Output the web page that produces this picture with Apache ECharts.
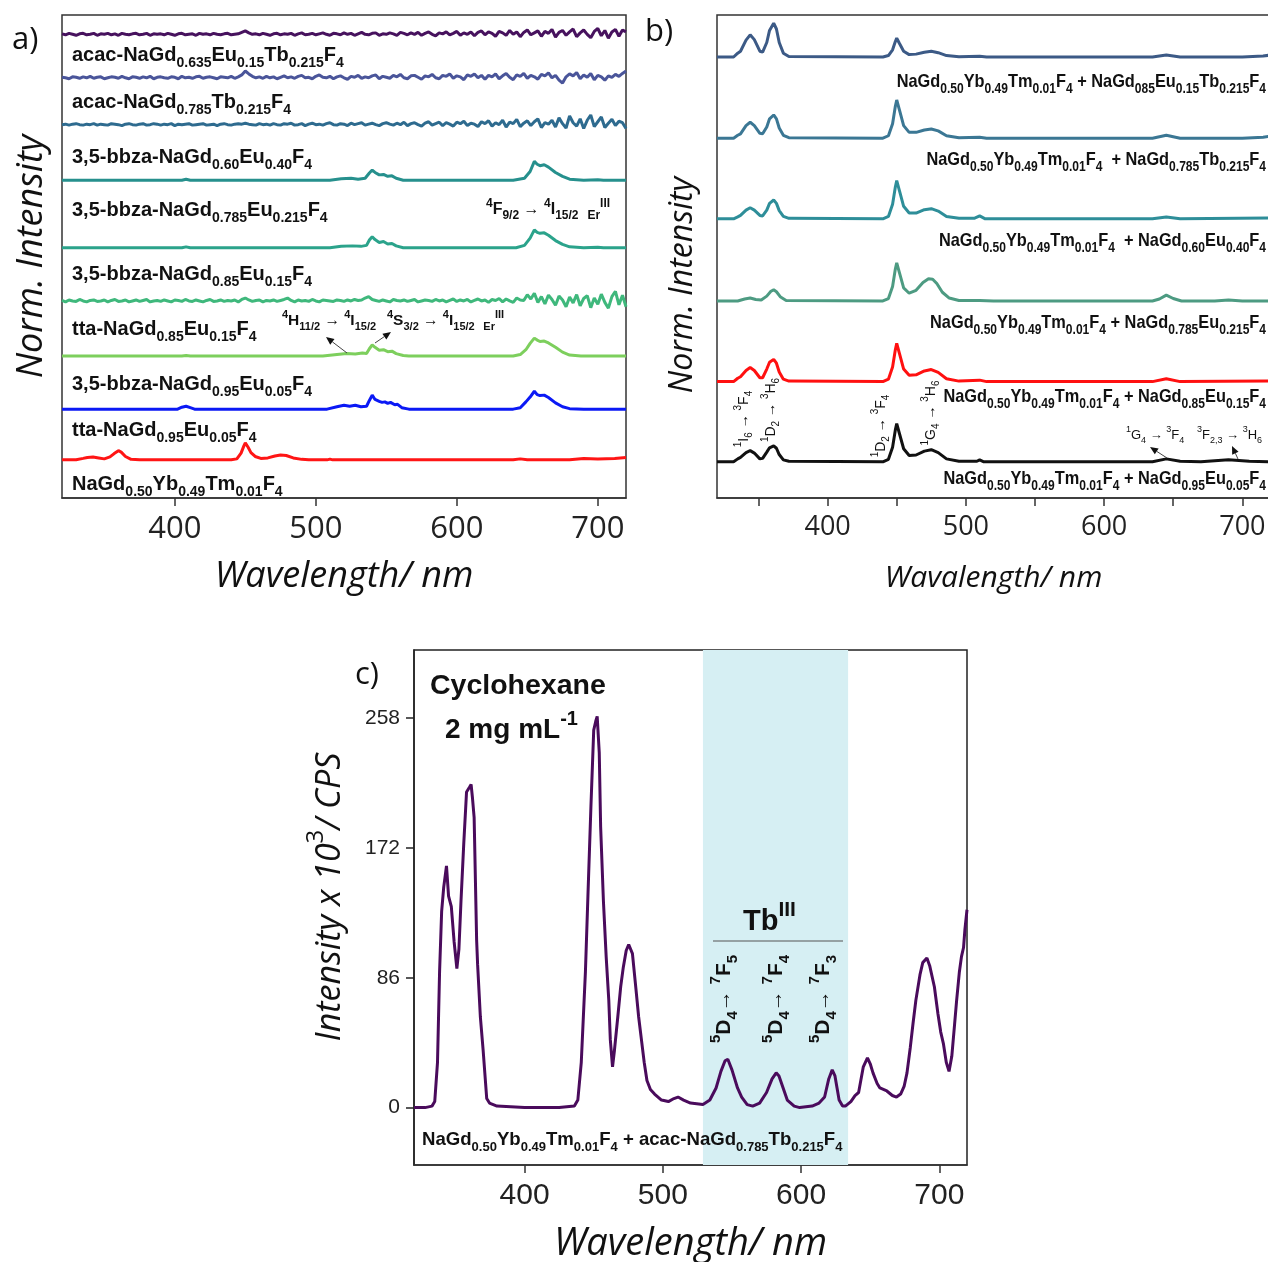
<!DOCTYPE html>
<html>
<head>
<meta charset="utf-8">
<script src="https://cdn.jsdelivr.net/npm/echarts@6/dist/echarts.min.js"></script>
<style>
  html, body { margin: 0; padding: 0; background: #fff; }
  #main { width: 1268px; height: 1262px; }
</style>
</head>
<body>
<div id="main"></div>
<script>
// ---- panel a : stacked normalised spectra (y unit = arbitrary offset scale 0-100)
var offsetsA = [96, 87, 77.3, 65.8, 51.8, 40.8, 29.4, 18.4, 7.9];
var colorsA = ['#47125e', '#4a559a', '#2e6b8f', '#26908d', '#2ba38b', '#3fb87c', '#7dcf5d', '#0b19f5', '#ff1515'];

// noisy traces, one value every 2.5 nm from 320 to 720 (rows of 50 nm)
var purpleNoise = [
  0.1,-0.1,0.2,0,-0.2,0.1,0.2,-0.1,0,0.2,-0.2,0.1,0,0.2,-0.1,0.1,-0.2,0.2,0,-0.1,
  0.1,0.2,-0.1,0,0.2,-0.2,0.1,0,0.1,-0.1,0.2,0,-0.2,0.1,0.2,-0.1,0,0.1,-0.2,0.2,
  0,0.1,-0.1,0.2,0,-0.1,0.1,0.2,-0.1,0,0.1,0.4,0.7,0.3,0,0.1,-0.1,0.2,0,-0.2,
  0.1,0.2,-0.1,0.1,0,0.2,-0.2,0.1,0.3,-0.1,0,0.2,-0.1,0.1,0.3,0,-0.2,0.2,0.1,-0.1,
  0.3,0,0.2,-0.2,0.1,0.4,0,-0.1,0.2,0.3,-0.2,0.1,0,0.3,0.1,-0.2,0.4,0.2,-0.1,0.3,
  0,0.4,-0.2,0.2,0.5,0,-0.3,0.3,0.1,0.5,-0.1,0.2,0.6,-0.2,0.3,0,0.5,-0.3,0.4,0.7,
  -0.1,0.5,0.2,-0.4,0.6,0.3,-0.2,0.8,0,0.5,-0.5,0.4,0.9,-0.1,0.3,0.7,-0.4,0.6,0.2,1.0,
  -0.6,0.4,0.8,-0.2,0.5,1.1,-0.5,0.3,0.9,0,-0.7,0.6,1.2,-0.3,0.8,-0.8,0.5,1.0,-0.4,0.9,
  0.5];
var slateNoise = [
  0.1,0,-0.2,0.2,0.1,-0.1,0.2,0,0.3,-0.1,0.1,0.2,-0.2,0,0.2,0.1,-0.1,0.3,0,-0.2,
  0.2,0.1,-0.1,0.2,0,0.3,-0.2,0.1,0.2,0,-0.1,0.2,0.1,-0.2,0.3,0,0.1,-0.1,0.2,0.3,
  -0.1,0.1,0.2,0,-0.2,0.2,0.1,0,0.3,-0.1,0.2,0.6,1.4,0.8,0.3,0,0.2,-0.1,0.3,0,
  0.2,-0.2,0.1,0.4,0,0.2,-0.1,0.3,0.5,0,0.1,-0.2,0.3,0.6,0.1,0,0.3,-0.2,0.2,0.4,
  0,-0.3,0.3,0.1,0.5,-0.1,0.2,0,0.4,0.6,-0.2,0.3,0.1,-0.1,0.5,0.2,0.7,0,-0.2,0.4,
  0.5,0.1,-0.3,0.4,0.2,0.7,0,-0.2,0.5,0.3,0.8,-0.1,0.4,0.2,-0.4,0.6,0.3,0.8,0,0.5,
  -0.3,0.5,0.2,0.8,-0.2,0.4,0.9,0.1,-0.4,0.6,0.3,0.9,-0.1,0.5,0.2,-0.3,0.7,0.4,1.0,0,
  0.5,-0.5,-1.1,0.2,0.8,0.4,1.1,-0.2,0.6,0.1,0.9,-0.4,0.5,0.2,-0.5,0.4,0.1,0.7,0.3,0.9,
  1.4];
var steelNoise = [
  0,0.1,-0.1,0.1,0.2,0,-0.1,0.1,0,0.2,-0.1,0.1,0,-0.1,0.2,0.1,0,-0.2,0.1,0.2,
  0,-0.1,0.1,0.2,-0.1,0,0.2,0.1,-0.1,0.1,0,0.2,-0.2,0.1,0,0.1,0.2,-0.1,0,0.1,
  0.2,-0.1,0,0.1,-0.2,0.1,0.2,0,-0.1,0.1,0.2,0.1,0.3,0.1,0,-0.1,0.2,0,0.1,-0.1,
  0.2,0,-0.1,0.2,0.1,0.3,-0.1,0,0.2,-0.2,0.1,0.3,0,0.1,-0.1,0.2,0.4,0,-0.1,0.2,
  0.1,-0.2,0.3,0,0.2,0.4,-0.1,0.1,0.3,0,-0.2,0.2,0.4,0.1,-0.1,0.3,0,0.5,-0.2,0.2,
  0.4,0,-0.3,0.3,0.6,-0.1,0.2,0.5,-0.2,0.4,0.1,-0.3,0.5,0.2,0.7,-0.2,0.3,0.1,-0.4,0.6,
  0.2,0.8,-0.3,0.4,0,0.9,-0.5,0.5,0.2,1.1,-0.4,0.3,0.8,-0.2,0.6,1.2,-0.6,0.4,0.1,0.9,
  -0.5,1.4,0.2,-0.7,1.8,0.4,-0.3,1.2,-0.8,0.9,2.0,-0.4,0.6,1.6,-0.6,0.3,1.1,-0.2,0.7,0.4,
  -0.8];
var greenNoise = [
  0.1,-0.2,0.2,0,-0.1,0.3,0,-0.2,0.1,0.2,-0.1,0,0.2,-0.2,0.1,0.3,-0.1,0,0.2,-0.2,
  0,0.2,-0.1,0.1,0.3,-0.2,0,0.1,-0.1,0.2,0,-0.2,0.2,0.1,-0.1,0.3,0,-0.1,0.2,0,
  -0.2,0.1,0.3,-0.1,0,0.2,-0.1,0.1,0,0.2,-0.2,0.3,0.6,0.2,-0.1,0.1,0.2,-0.2,0.1,0,
  0.2,-0.1,0.1,0.3,0.6,0.1,-0.2,0.2,0,0.1,-0.1,0.3,0,-0.2,0.2,0.1,0,-0.1,0.2,0.1,
  -0.1,0.2,0,0.3,0.1,0.2,0.6,0.9,0.3,0.1,-0.1,0.2,0,-0.2,0.3,0.1,0,0.2,-0.1,0.1,
  0.3,-0.2,0,0.2,0.1,-0.1,0.3,0,0.2,-0.2,0.1,0.4,-0.1,0.2,0,0.3,-0.2,0.1,0.4,0,
  0.2,-0.3,0.3,0.1,0.5,-0.2,0.4,0,-0.3,0.6,0.2,0.1,1.3,0.4,1.6,-0.3,0.9,-0.6,1.2,0.3,
  -0.9,1.0,0.2,-1.2,0.8,-0.4,1.3,-1.0,0.5,1.1,-1.4,0.6,-0.7,1.4,-0.3,-1.5,0.9,2.0,-0.8,1.2,
  -1.2];

// smooth traces as [wavelength, intensity]
var tealA = [[320,0],[405,0],[408,0.2],[411,0],[510,0],[518,0.3],[525,0.4],[530,0.2],[535,0.4],[538,1.5],[540,2.1],[542,1.6],[545,1.1],[548,1.2],[551,0.8],[554,0.9],[557,0.4],[562,0],[640,0],[648,0.4],[652,1.8],[655,3.9],[657,3.3],[659,3.0],[662,3.2],[665,2.7],[670,1.6],[675,0.8],[680,0.2],[690,0],[700,0.1],[704,0],[720,0]];
var tealGreenA = [[320,0],[405,0],[408,0.2],[411,0],[510,0],[518,0.3],[526,0.4],[532,0.3],[536,0.5],[538,1.6],[540,2.3],[542,1.7],[545,1.1],[548,1.3],[551,0.8],[554,0.9],[557,0.4],[562,0],[642,0],[648,0.5],[652,2.0],[655,3.7],[657,3.2],[659,3.0],[662,3.1],[665,2.6],[670,1.5],[675,0.7],[680,0.2],[690,0],[700,0.1],[704,0],[720,0]];
var lightGreenA = [[320,0],[405,0],[408,0.1],[411,0],[505,0],[515,0.3],[522,0.5],[528,0.4],[533,0.6],[536,0.5],[538,1.5],[540,2.3],[542,1.8],[545,1.2],[548,1.3],[551,0.9],[554,1.0],[557,0.5],[562,0.1],[566,0],[640,0],[645,0.3],[649,1.3],[652,2.6],[655,3.7],[657,3.3],[659,3.0],[662,3.1],[665,2.7],[670,1.8],[675,0.8],[680,0.2],[688,0],[720,0]];
var blueA = [[320,0],[402,0],[405,0.4],[408,0.6],[411,0.3],[414,0],[508,0],[515,0.5],[520,0.8],[524,0.6],[528,0.8],[532,0.5],[536,0.6],[538,1.8],[540,2.9],[542,2.0],[545,1.6],[547,1.4],[549,1.5],[551,1.2],[553,1.4],[556,0.9],[558,1.0],[561,0.3],[566,0],[640,0],[645,0.3],[649,1.5],[652,2.5],[655,3.7],[657,3.0],[659,2.8],[662,2.9],[665,2.4],[670,1.3],[675,0.5],[680,0.1],[690,0],[720,0]];
var redA = [[320,0],[330,0],[335,0.3],[338,0.5],[342,0.6],[346,0.4],[350,0.2],[354,0.6],[357,1.3],[360,1.9],[362,1.6],[365,0.7],[369,0.1],[375,0],[440,0],[444,0.2],[447,1.4],[449,2.9],[450,3.5],[452,2.6],[454,1.5],[457,0.7],[461,0.3],[466,0.4],[471,0.8],[475,1.0],[479,0.9],[484,0.4],[490,0.1],[495,0],[508,0],[510,0.15],[512,0],[640,0],[645,0.2],[650,0],[680,0],[690,0.3],[700,0.2],[712,0.3],[720,0.5]];

var labelsA = [
  'acac-NaGd_{0.635}Eu_{0.15}Tb_{0.215}F_{4}',
  'acac-NaGd_{0.785}Tb_{0.215}F_{4}',
  '3,5-bbza-NaGd_{0.60}Eu_{0.40}F_{4}',
  '3,5-bbza-NaGd_{0.785}Eu_{0.215}F_{4}',
  '3,5-bbza-NaGd_{0.85}Eu_{0.15}F_{4}',
  'tta-NaGd_{0.85}Eu_{0.15}F_{4}',
  '3,5-bbza-NaGd_{0.95}Eu_{0.05}F_{4}',
  'tta-NaGd_{0.95}Eu_{0.05}F_{4}',
  'NaGd_{0.50}Yb_{0.49}Tm_{0.01}F_{4}'
];

// ---- panel b
var offsetsB = [91.3, 74.5, 57.8, 40.8, 24.1, 7.5];
var colorsB = ['#3c5a86', '#3b7794', '#2e8e99', '#4d9b82', '#ff1010', '#111111'];
var navyB = [[320,0],[332,0],[335,0.8],[337,1.2],[341,3.5],[344,4.6],[347,3.6],[351,1.2],[353,1.0],[356,3.0],[358,5.5],[361,7.0],[363,5.8],[365,3.0],[368,0.8],[372,0.1],[440,0],[444,0.3],[447,1.5],[449,3.2],[450,3.9],[452,2.8],[455,1.2],[459,0.5],[464,0.6],[470,1.0],[475,1.2],[480,0.9],[486,0.3],[495,0.05],[510,0.15],[515,0],[635,0],[645,0.4],[655,0],[700,0],[715,0.2],[720,0.4]];
var steelB = [[320,0],[332,0],[335,0.6],[337,0.9],[341,2.6],[344,3.3],[347,2.6],[351,1.0],[353,0.9],[356,2.3],[358,4.0],[361,4.8],[363,4.0],[365,2.1],[368,0.6],[372,0.1],[440,0],[444,0.5],[447,3.0],[449,6.6],[450,7.9],[452,5.8],[455,2.6],[459,1.2],[464,1.2],[470,1.7],[475,1.9],[480,1.5],[486,0.5],[495,0.1],[510,0.2],[515,0],[635,0],[645,0.6],[655,0],[700,0],[715,0.2],[720,0.4]];
var tealB = [[320,0],[332,0],[335,0.4],[337,0.7],[341,1.8],[344,2.3],[347,1.8],[351,0.7],[353,0.6],[356,1.8],[358,3.2],[361,3.9],[363,3.2],[365,1.7],[368,0.5],[372,0.1],[440,0],[444,0.5],[447,3.0],[449,6.6],[450,7.9],[452,5.8],[455,2.6],[459,1.2],[464,1.2],[470,1.9],[475,2.1],[480,1.6],[486,0.5],[495,0.1],[506,0.1],[510,0.6],[514,0],[635,0],[645,0.4],[655,0],[720,0.2]];
var sageB = [[320,0],[335,0],[340,0.4],[344,0.6],[348,0.3],[352,0.2],[356,1.0],[359,2.0],[361,2.3],[363,1.9],[366,0.8],[370,0.1],[440,0],[444,0.5],[447,3.0],[449,6.6],[450,7.9],[452,5.8],[455,2.7],[459,1.6],[464,2.2],[469,3.8],[473,4.6],[476,4.5],[479,3.6],[483,1.8],[488,0.6],[495,0.1],[510,0.1],[520,0],[635,0],[640,0.4],[645,1.2],[650,0.5],[656,0],[680,0],[690,0.2],[700,0],[720,0]];
var redB = [[320,0],[332,0],[335,0.7],[337,1.0],[341,2.3],[344,2.9],[347,2.3],[351,0.8],[353,0.8],[356,2.6],[358,4.0],[361,4.6],[363,3.8],[365,2.0],[368,0.5],[372,0.1],[440,0],[444,0.5],[447,3.0],[449,6.6],[450,7.9],[452,5.8],[455,2.6],[459,1.3],[464,1.4],[470,2.2],[475,2.5],[480,1.9],[486,0.6],[495,0.1],[510,0.3],[515,0],[635,0],[645,0.6],[655,0],[720,0.1]];
var blackB = [[320,0],[332,0],[335,0.6],[337,0.9],[341,1.9],[344,2.3],[347,1.8],[351,0.6],[353,0.7],[356,2.0],[358,2.9],[361,3.3],[363,2.8],[365,1.5],[368,0.4],[372,0.1],[440,0],[444,0.5],[447,3.0],[449,6.6],[450,7.9],[452,5.8],[455,2.7],[459,1.3],[464,1.4],[470,2.2],[475,2.5],[480,1.9],[486,0.6],[495,0.1],[508,0.1],[510,0.4],[513,0],[635,0],[645,0.6],[655,0.1],[670,0],[690,0.4],[705,0.1],[720,0]];
var labelsB = [
  'NaGd_{0.50}Yb_{0.49}Tm_{0.01}F_{4} + NaGd_{085}Eu_{0.15}Tb_{0.215}F_{4}',
  'NaGd_{0.50}Yb_{0.49}Tm_{0.01}F_{4}  + NaGd_{0.785}Tb_{0.215}F_{4}',
  'NaGd_{0.50}Yb_{0.49}Tm_{0.01}F_{4}  + NaGd_{0.60}Eu_{0.40}F_{4}',
  'NaGd_{0.50}Yb_{0.49}Tm_{0.01}F_{4} + NaGd_{0.785}Eu_{0.215}F_{4}',
  'NaGd_{0.50}Yb_{0.49}Tm_{0.01}F_{4} + NaGd_{0.85}Eu_{0.15}F_{4}',
  'NaGd_{0.50}Yb_{0.49}Tm_{0.01}F_{4} + NaGd_{0.95}Eu_{0.05}F_{4}'
];

// ---- panel c : intensity in 10^3 CPS
var cyclohexane = [[320,0],[328,0],[333,1],[335,4],[337,30],[338.5,90],[340,130],[341.5,146],[343.5,160],[345,140],[347,133],[349,110],[351,92],[352.5,105],[354,137],[356,175],[358,209],[360,212],[361.3,214],[362.3,205],[363.5,192],[365.3,111],[366,95],[368,60],[370,38],[372.6,6],[374.6,3],[380,1],[400,0],[425,0],[436,1],[438.5,5],[441,30],[444,90],[445.8,140],[448,200],[450,250],[451.5,256],[452.5,259],[454,235],[455,186],[457,137],[459,100],[460.9,71],[462,45],[463.6,27],[465,38],[467.4,60],[469.5,80],[471.4,93],[473.5,104],[475.3,108],[478,102],[480.6,78],[482.5,60],[484.5,45],[486.5,30],[488.5,18],[491,12],[494,9],[499,5],[504,4],[508,6],[511,7],[515,5],[520,3],[529,2],[534,5],[538.5,13],[542,24],[545,31],[547,32],[550,25],[554,13],[557,7],[561,2],[565,1],[570,3],[575,10],[579,19],[582,23],[584,21],[587,13],[590,5],[595,1],[599,0],[608,1],[613,3],[617,7],[620,19],[622.5,25],[624.5,21],[626,13],[627.5,5],[630,1],[632,1],[636,4],[639,8],[641.6,10],[645,27],[648,33],[650,29],[652,23],[655,16],[657,13],[662,11],[666,8],[669,7],[672,9],[674.5,14],[676.6,23],[679,40],[681,56],[683,71],[686,88],[688,96],[691,99],[693,94],[696.4,80],[699,62],[701,50],[703,42],[705,30],[707,24],[709,34],[711,55],[712.5,71],[714.5,90],[716,100],[717.5,106],[718.5,118],[720,131]];
var tbBand = [529, 634];
var ticksC = [0, 86, 172, 258];
var ticksX = [400, 500, 600, 700];
var ticksXb = [350, 400, 450, 500, 550, 600, 650, 700];

var noiseWl = [];
for (var w = 320; w <= 720; w += 2.5) noiseWl.push(w);

var calib = "'Liberation Sans', Arial, sans-serif";
var arial = "'Liberation Sans', Arial, sans-serif";
var sego = "'Open Sans', 'Noto Sans', sans-serif";

function shift(pairs, off) {
  return pairs.map(function (p) { return [p[0], p[1] + off]; });
}
function shiftNoise(vals, off) {
  return vals.map(function (v, i) { return [noiseWl[i], v + off]; });
}
function line(name, data, color, xi, width) {
  return {
    name: name, type: 'line', data: data, xAxisIndex: xi, yAxisIndex: xi,
    showSymbol: false, symbol: 'none', silent: true,
    lineStyle: { color: color, width: width || 3 }, itemStyle: { color: color },
    z: 5
  };
}

function richStyles(fs, fam, weight, color) {
  var small = Math.round(fs * 0.72);
  return {
    s: { fontSize: small, fontFamily: fam, fontWeight: weight, fill: color, verticalAlign: 'bottom', lineHeight: small },
    p: { fontSize: small, fontFamily: fam, fontWeight: weight, fill: color, verticalAlign: 'top', lineHeight: small }
  };
}
function txt(x, y, markup, fs, o) {
  o = o || {};
  var fam = o.family || calib, weight = o.weight || 'bold', color = o.color || '#111';
  return {
    type: 'text', x: x, y: y, rotation: o.rot || 0, scaleX: o.sx || 1, z: 100, silent: true,
    style: {
      text: markup.replace(/_\{([^}]*)\}/g, '{s|$1}').replace(/\^\{([^}]*)\}/g, '{p|$1}'),
      fontSize: fs, fontFamily: fam, fontWeight: weight, fontStyle: o.italic ? 'italic' : 'normal', fill: color,
      lineHeight: Math.round(fs * 1.5),
      align: o.align || 'left', verticalAlign: 'middle',
      rich: richStyles(fs, fam, weight, color)
    }
  };
}
function arrow(x1, y1, x2, y2) {
  var a = Math.atan2(y2 - y1, x2 - x1), L = 8, W = 3.5;
  var bx = x2 - L * Math.cos(a), by = y2 - L * Math.sin(a);
  return [
    { type: 'line', z: 100, silent: true, shape: { x1: x1, y1: y1, x2: bx, y2: by }, style: { stroke: '#444', lineWidth: 1 } },
    { type: 'polygon', z: 100, silent: true, shape: { points: [[x2, y2], [bx + W * Math.sin(a), by - W * Math.cos(a)], [bx - W * Math.sin(a), by + W * Math.cos(a)]] }, style: { fill: '#111' } }
  ];
}

var series = [];
series.push(line('a1', shiftNoise(purpleNoise, offsetsA[0]), colorsA[0], 0));
series.push(line('a2', shiftNoise(slateNoise, offsetsA[1]), colorsA[1], 0));
series.push(line('a3', shiftNoise(steelNoise, offsetsA[2]), colorsA[2], 0));
series.push(line('a4', shift(tealA, offsetsA[3]), colorsA[3], 0));
series.push(line('a5', shift(tealGreenA, offsetsA[4]), colorsA[4], 0));
series.push(line('a6', shiftNoise(greenNoise, offsetsA[5]), colorsA[5], 0));
series.push(line('a7', shift(lightGreenA, offsetsA[6]), colorsA[6], 0));
series.push(line('a8', shift(blueA, offsetsA[7]), colorsA[7], 0));
series.push(line('a9', shift(redA, offsetsA[8]), colorsA[8], 0));
[navyB, steelB, tealB, sageB, redB, blackB].forEach(function (d, i) {
  series.push(line('b' + (i + 1), shift(d, offsetsB[i]), colorsB[i], 1));
});
var cSeries = line('c', cyclohexane, '#4a0b5c', 2, 3);
cSeries.markArea = {
  silent: true,
  itemStyle: { color: '#d6eff3' },
  data: [[{ xAxis: tbBand[0] }, { xAxis: tbBand[1] }]]
};
series.push(cSeries);

function xAxisFor(gi, ticks, labs, name, fs, gap, nameFs) {
  return {
    gridIndex: gi, type: 'value', min: 320, max: 720,
    axisLine: { show: true, onZero: false, lineStyle: { color: '#333', width: 1.5 } },
    axisTick: { show: true, customValues: ticks, length: 8, lineStyle: { color: '#333', width: 1.5 } },
    axisLabel: { customValues: labs, fontSize: fs, color: '#222', margin: 16, fontFamily: gi === 2 ? arial : sego },
    splitLine: { show: false },
    name: name, nameLocation: 'middle', nameGap: gap,
    nameTextStyle: { fontSize: nameFs, fontStyle: 'italic', fontFamily: sego, color: '#111' }
  };
}

var graphics = [];
labelsA.forEach(function (t, i) {
  var ys = [55, 102, 157, 210, 274, 329, 384, 430, 484];
  graphics.push(txt(72, ys[i], t, 20));
});
labelsB.forEach(function (t, i) {
  var ys = [82, 160, 241, 323, 397, 479];
  graphics.push(txt(1266, ys[i], t, 19, { align: 'right', sx: 0.86 }));
});
// panel a transitions
graphics.push(txt(486, 210, '^{4}F_{9/2} \u2192 ^{4}I_{15/2}  _{Er}^{III}', 16, { family: arial }));
graphics.push(txt(282, 321, '^{4}H_{11/2} \u2192 ^{4}I_{15/2}', 15.5, { family: arial }));
graphics.push(txt(387, 321, '^{4}S_{3/2} \u2192 ^{4}I_{15/2}  _{Er}^{III}', 15.5, { family: arial }));
graphics = graphics.concat(arrow(347, 353, 326, 337), arrow(375, 343, 391, 332));
// panel b transitions
graphics.push(txt(744, 419, '^{1}I_{6} \u2192 ^{3}F_{4}', 14, { family: arial, weight: 'normal', rot: Math.PI / 2, align: 'center' }));
graphics.push(txt(771, 410, '^{1}D_{2} \u2192 ^{3}H_{6}', 14, { family: arial, weight: 'normal', rot: Math.PI / 2, align: 'center' }));
graphics.push(txt(881, 426, '^{1}D_{2} \u2192 ^{3}F_{4}', 14, { family: arial, weight: 'normal', rot: Math.PI / 2, align: 'center' }));
graphics.push(txt(931, 413, '^{1}G_{4} \u2192 ^{3}H_{6}', 14, { family: arial, weight: 'normal', rot: Math.PI / 2, align: 'center' }));
graphics.push(txt(1126, 435, '^{1}G_{4} \u2192 ^{3}F_{4}', 13, { family: arial, weight: 'normal' }));
graphics.push(txt(1197, 435, '^{3}F_{2,3} \u2192 ^{3}H_{6}', 13, { family: arial, weight: 'normal' }));
graphics = graphics.concat(arrow(1167, 458, 1150, 447), arrow(1238, 459, 1232, 446));
// panel c text
graphics.push(txt(430, 686, 'Cyclohexane', 28.5, { family: arial }));
graphics.push(txt(445, 730, '2 mg mL^{-1}', 28, { family: arial }));
graphics.push(txt(743, 922, 'Tb^{III}', 29, { family: arial }));
graphics.push({ type: 'line', z: 100, silent: true, shape: { x1: 713, y1: 941, x2: 843, y2: 941 }, style: { stroke: '#555', lineWidth: 1.2 } });
[[724, '^{5}D_{4}\u2192 ^{7}F_{5}'], [776, '^{5}D_{4}\u2192 ^{7}F_{4}'], [823, '^{5}D_{4}\u2192 ^{7}F_{3}']].forEach(function (d) {
  graphics.push(txt(d[0], 999, d[1], 21, { family: arial, rot: Math.PI / 2, align: 'center' }));
});
graphics.push(txt(422, 1140, 'NaGd_{0.50}Yb_{0.49}Tm_{0.01}F_{4} + acac-NaGd_{0.785}Tb_{0.215}F_{4}', 18.6));
// panel tags and rotated titles
graphics.push(txt(12, 40, 'a)', 31, { family: sego, weight: 'normal' }));
graphics.push(txt(645, 32, 'b)', 31, { family: sego, weight: 'normal' }));
graphics.push(txt(355, 675, 'c)', 31, { family: sego, weight: 'normal' }));
graphics.push(txt(683, 285, 'Norm. Intensity', 32, { family: sego, weight: 'normal', italic: true, rot: Math.PI / 2, align: 'center' }));
graphics.push(txt(330, 897, 'Intensity x 10^{3}/ CPS', 34, { family: sego, weight: 'normal', italic: true, rot: Math.PI / 2, align: 'center' }));

var chartDom = document.getElementById('main');
var myChart = echarts.init(chartDom, null, { renderer: 'canvas' });
var option = {
  animation: false,
  backgroundColor: '#fff',
  grid: [
    { left: 62, top: 15, width: 564, height: 483, show: true, borderColor: '#333', borderWidth: 1.5, outerBoundsMode: 'none' },
    { left: 717, top: 15, width: 553, height: 483, show: true, borderColor: '#333', borderWidth: 1.5, outerBoundsMode: 'none' },
    { left: 414, top: 650, width: 553, height: 515, show: true, borderColor: '#222', borderWidth: 1.5, outerBoundsMode: 'none' }
  ],
  xAxis: [
    xAxisFor(0, ticksX, ticksX, 'Wavelength/ nm', 31, 61, 36),
    xAxisFor(1, ticksXb, ticksX, 'Wavalength/ nm', 27, 65, 30),
    xAxisFor(2, ticksX, ticksX, 'Wavelength/ nm', 30, 60, 38)
  ],
  yAxis: [
    { gridIndex: 0, type: 'value', min: 0, max: 100, axisLine: { show: false }, axisTick: { show: false }, axisLabel: { show: false }, splitLine: { show: false },
      name: 'Norm. Intensity', nameLocation: 'middle', nameGap: 12, nameTextStyle: { fontSize: 36, fontStyle: 'italic', fontFamily: sego, color: '#111' } },
    { gridIndex: 1, type: 'value', min: 0, max: 100, axisLine: { show: false }, axisTick: { show: false }, axisLabel: { show: false }, splitLine: { show: false } },
    { gridIndex: 2, type: 'value', min: -38, max: 303,
      axisLine: { show: true, onZero: false, lineStyle: { color: '#222', width: 1.5 } },
      axisTick: { show: true, customValues: ticksC, length: 8, lineStyle: { color: '#222', width: 1.5 } },
      axisLabel: { customValues: ticksC, fontSize: 21, color: '#222', margin: 14, fontFamily: arial },
      splitLine: { show: false } }
  ],
  series: series,
  graphic: { elements: graphics }
};
myChart.setOption(option);
</script>
</body>
</html>
